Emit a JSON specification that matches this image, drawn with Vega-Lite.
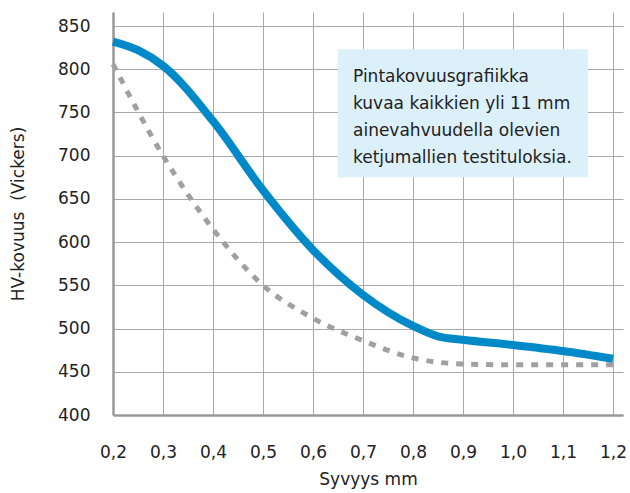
{
  "$schema": "https://vega.github.io/schema/vega-lite/v6.json",
  "width": 510,
  "height": 403,
  "autosize": {"type": "none"},
  "padding": {"left": 113, "top": 12, "right": 7, "bottom": 78},
  "background": "white",
  "config": {
    "font": "DejaVu Sans",
    "view": {"stroke": null},
    "axis": {"labelFont": "DejaVu Sans", "titleFont": "DejaVu Sans", "labelColor": "#222", "titleColor": "#222", "titleFontWeight": "normal", "labelFlush": false, "labelOverlap": false}
  },
  "datasets": {
    "lines": [
      {"depth": 0.2, "hv": 832, "series": "a"},
      {"depth": 0.25, "hv": 822, "series": "a"},
      {"depth": 0.3, "hv": 804, "series": "a"},
      {"depth": 0.4, "hv": 740, "series": "a"},
      {"depth": 0.5, "hv": 660, "series": "a"},
      {"depth": 0.6, "hv": 591, "series": "a"},
      {"depth": 0.7, "hv": 539, "series": "a"},
      {"depth": 0.8, "hv": 503, "series": "a"},
      {"depth": 0.85, "hv": 491, "series": "a"},
      {"depth": 0.9, "hv": 487, "series": "a"},
      {"depth": 1.0, "hv": 481, "series": "a"},
      {"depth": 1.1, "hv": 474, "series": "a"},
      {"depth": 1.2, "hv": 465, "series": "a"},
      {"depth": 0.2, "hv": 806, "series": "b"},
      {"depth": 0.3, "hv": 700, "series": "b"},
      {"depth": 0.4, "hv": 615, "series": "b"},
      {"depth": 0.5, "hv": 550, "series": "b"},
      {"depth": 0.6, "hv": 512, "series": "b"},
      {"depth": 0.7, "hv": 486, "series": "b"},
      {"depth": 0.8, "hv": 466, "series": "b"},
      {"depth": 0.85, "hv": 461, "series": "b"},
      {"depth": 0.9, "hv": 459, "series": "b"},
      {"depth": 1.0, "hv": 458, "series": "b"},
      {"depth": 1.1, "hv": 458, "series": "b"},
      {"depth": 1.2, "hv": 458, "series": "b"}
    ],
    "box": [{"x1": 0.65, "x2": 1.15, "y1": 823, "y2": 675}],
    "note": [{"x": 0.68, "y": 791, "text": ["Pintakovuusgrafiikka", "kuvaa kaikkien yli 11 mm", "ainevahvuudella olevien", "ketjumallien testituloksia."]}]
  },
  "layer": [
    {
      "data": {"name": "box"},
      "mark": {"type": "rect", "color": "#dcf0fa"},
      "encoding": {
        "x": {"field": "x1", "type": "quantitative", "scale": {"domain": [0.2, 1.22], "nice": false},
          "axis": {"values": [0.2, 0.3, 0.4, 0.5, 0.6, 0.7, 0.8, 0.9, 1.0, 1.1, 1.2], "labelExpr": "replace(format(datum.value, '.1f'), '.', ',')", "title": "Syvyys mm", "grid": true, "gridColor": "#a8a8a8", "gridWidth": 1, "domainColor": "#999", "domainWidth": 2.5, "ticks": false, "labelPadding": 29, "labelFontSize": 17, "titleFontSize": 17, "titlePadding": 11, "zindex": 0}},
        "x2": {"field": "x2"},
        "y": {"field": "y1", "type": "quantitative", "scale": {"domain": [400, 866.2], "nice": false},
          "axis": {"values": [400, 450, 500, 550, 600, 650, 700, 750, 800, 850], "title": "HV-kovuus\u00a0\u00a0(Vickers)", "grid": true, "gridColor": "#a8a8a8", "gridWidth": 1, "domainColor": "#999", "domainWidth": 2.5, "ticks": false, "labelPadding": 23, "labelFontSize": 17, "titleFontSize": 17, "titlePadding": 30, "zindex": 0}},
        "y2": {"field": "y2"}
      }
    },
    {
      "data": {"name": "note"},
      "mark": {"type": "text", "align": "left", "baseline": "middle", "fontSize": 17, "lineHeight": 27, "color": "#222", "font": "DejaVu Sans"},
      "encoding": {
        "x": {"field": "x", "type": "quantitative"},
        "y": {"field": "y", "type": "quantitative"},
        "text": {"field": "text"}
      }
    },
    {
      "data": {"name": "lines"},
      "transform": [{"filter": "datum.series == 'b'"}],
      "mark": {"type": "line", "interpolate": "monotone", "color": "#a0a0a3", "strokeWidth": 5, "strokeDash": [7, 8]},
      "encoding": {
        "x": {"field": "depth", "type": "quantitative"},
        "y": {"field": "hv", "type": "quantitative"}
      }
    },
    {
      "data": {"name": "lines"},
      "transform": [{"filter": "datum.series == 'a'"}],
      "mark": {"type": "line", "interpolate": "monotone", "color": "#0089c9", "strokeWidth": 8},
      "encoding": {
        "x": {"field": "depth", "type": "quantitative"},
        "y": {"field": "hv", "type": "quantitative"}
      }
    }
  ]
}
